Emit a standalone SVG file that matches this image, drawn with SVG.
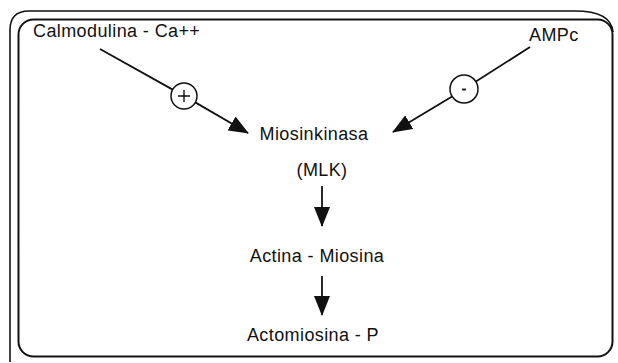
<svg xmlns="http://www.w3.org/2000/svg" width="618" height="363" viewBox="0 0 618 363">
  <style>
    .frame { fill: none; stroke: #111; }
    .lbl { font-family: "Liberation Sans", Arial, sans-serif; font-size: 18px; fill: #111; letter-spacing: 0.4px; }
    .mid { text-anchor: middle; }
    .edge { fill: none; stroke: #111; stroke-width: 1.8; }
    .sign { fill: #fff; stroke: #111; stroke-width: 1.5; }
  </style>
  <defs>
    <marker id="head" viewBox="0 0 20 16" refX="19" refY="8" markerWidth="20" markerHeight="16" markerUnits="userSpaceOnUse" orient="auto">
      <path d="M0,0 L20,8 L0,16 Z" fill="#111"/>
    </marker>
  </defs>
  <rect width="618" height="363" fill="#fff"/>

  <!-- double border -->
  <g id="border">
    <path class="frame" stroke-width="1.6" d="M10,362 V30 Q10,11 29,11 H575 Q611,11 613,32"/>
    <rect class="frame" stroke-width="2" x="18.5" y="19.5" width="594" height="337" rx="15"/>
  </g>

  <g id="calmodulina">
    <text class="lbl" x="33" y="37">Calmodulina - Ca++</text>
  </g>
  <g id="ampc">
    <text class="lbl" x="529" y="41">AMPc</text>
  </g>
  <g id="miosinkinasa">
    <text class="lbl mid" x="314" y="140">Miosinkinasa</text>
    <text class="lbl mid" x="322" y="176">(MLK)</text>
  </g>
  <g id="actina-miosina">
    <text class="lbl mid" x="317" y="262">Actina - Miosina</text>
  </g>
  <g id="actomiosina-p">
    <text class="lbl mid" x="313" y="341">Actomiosina - P</text>
  </g>

  <g id="connectors">
    <!-- activation: Calmodulina -> MLK -->
    <line class="edge" x1="100" y1="49" x2="172.7" y2="89.6"/>
    <line class="edge" x1="195.3" y1="102.4" x2="248" y2="133" marker-end="url(#head)"/>
    <circle class="sign" cx="184" cy="96" r="13"/>
    <path d="M184,90 V102 M178,96 H190" stroke="#111" stroke-width="1.4" fill="none"/>

    <!-- inhibition: AMPc -> MLK -->
    <line class="edge" x1="530" y1="47" x2="475.9" y2="81.6"/>
    <line class="edge" x1="452.1" y1="96.4" x2="393" y2="132" marker-end="url(#head)"/>
    <circle class="sign" cx="464" cy="89" r="14"/>
    <path d="M462,89.5 H466" stroke="#111" stroke-width="1.8" fill="none"/>

    <!-- cascade -->
    <line class="edge" x1="322" y1="186" x2="322" y2="226" marker-end="url(#head)"/>
    <line class="edge" x1="322" y1="276" x2="322" y2="315" marker-end="url(#head)"/>
  </g>
</svg>
